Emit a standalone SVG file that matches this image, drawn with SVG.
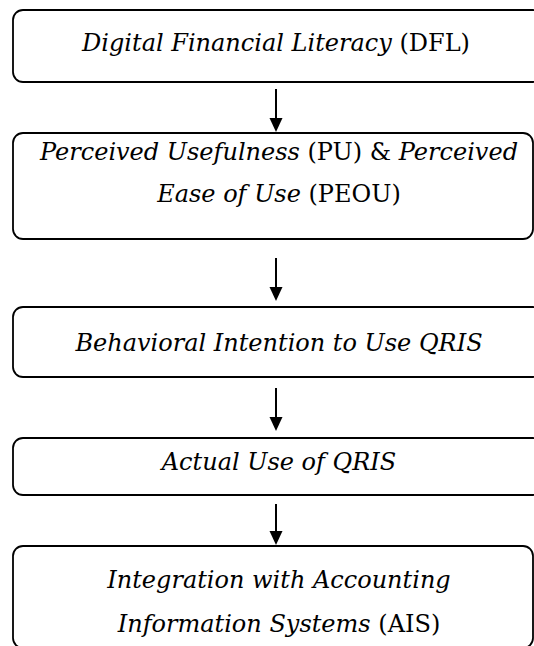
<svg xmlns="http://www.w3.org/2000/svg" width="534" height="646" viewBox="0 0 534 646">
<style>
.box{fill:#fff;stroke:#000;stroke-width:1.8}
.t{font-family:"DejaVu Serif","Liberation Serif",serif;font-size:24px;fill:#000;text-anchor:middle}
.i{font-style:italic}
.c{stroke:#000;stroke-width:2;fill:none}
.h{fill:#000}
</style>
<rect width="534" height="646" fill="#fff"/>
<g id="connectors">
<line class="c" x1="276" y1="89" x2="276" y2="120"/>
<path class="h" d="M269.5,118 L282.5,118 L276,132 Z"/>
<line class="c" x1="276" y1="258" x2="276" y2="289"/>
<path class="h" d="M269.5,287 L282.5,287 L276,301 Z"/>
<line class="c" x1="276" y1="388" x2="276" y2="419"/>
<path class="h" d="M269.5,417 L282.5,417 L276,431 Z"/>
<line class="c" x1="276" y1="504" x2="276" y2="533"/>
<path class="h" d="M269.5,531 L282.5,531 L276,545 Z"/>
</g>
<g id="dfl">
<rect class="box" x="13" y="10" width="530" height="72" rx="10"/>
<text class="t" x="276" y="51"><tspan class="i">Digital Financial Literacy</tspan> (DFL)</text>
</g>
<g id="pu-peou">
<rect class="box" x="13" y="133" width="520" height="106" rx="10"/>
<text class="t" x="279" y="160"><tspan class="i">Perceived Usefulness</tspan> (PU) &amp; <tspan class="i">Perceived</tspan></text>
<text class="t" x="279" y="202"><tspan class="i">Ease of Use</tspan> (PEOU)</text>
</g>
<g id="bi">
<rect class="box" x="13" y="307" width="530" height="70" rx="10"/>
<text class="t i" x="279" y="351">Behavioral Intention to Use QRIS</text>
</g>
<g id="au">
<rect class="box" x="13" y="438" width="530" height="57" rx="10"/>
<text class="t i" x="279" y="470">Actual Use of QRIS</text>
</g>
<g id="ais">
<rect class="box" x="13" y="546" width="520" height="102" rx="10"/>
<text class="t" x="279" y="588"><tspan class="i">Integration with Accounting</tspan></text>
<text class="t" x="279" y="632"><tspan class="i">Information Systems</tspan> (AIS)</text>
</g>
</svg>
